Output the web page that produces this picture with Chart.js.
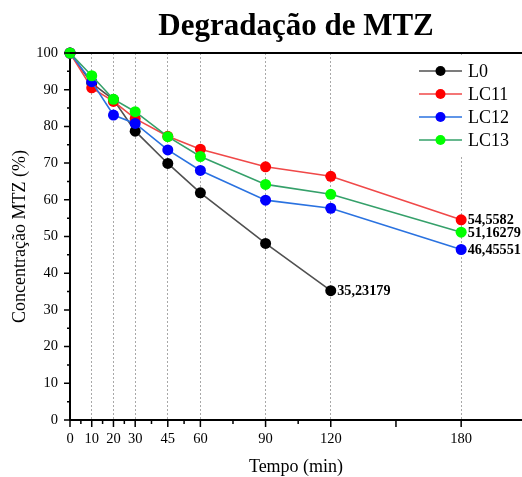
<!DOCTYPE html>
<html>
<head>
<meta charset="utf-8">
<script src="https://cdn.jsdelivr.net/npm/chart.js@4"></script>
<style>
html, body { margin: 0; padding: 0; background: #fff; overflow: hidden; }
canvas { display: block; }
</style>
</head>
<body>
<canvas id="grafico" width="522" height="477"></canvas>
<script>
const tempos = [0, 10, 20, 30, 45, 60, 90, 120, 180];

const serieL0 = [100, 91.8, 87.3, 78.7, 69.9, 61.9, 48.1, 35.23179];
const serieLC11 = [100, 90.5, 86.8, 82.1, 77.3, 73.8, 69.0, 66.4, 54.5582];
const serieLC12 = [100, 92.2, 83.1, 80.8, 73.6, 68.0, 59.9, 57.7, 46.45551];
const serieLC13 = [100, 93.8, 87.4, 84.0, 77.2, 71.8, 64.2, 61.5, 51.16279];

const nomes = ['L0', 'LC11', 'LC12', 'LC13'];
const coresLinha = ['#505050', '#f04848', '#2a72e0', '#35a06a'];
const coresPonto = ['#000000', '#ff0000', '#0000ff', '#00ff00'];

// marcas do eixo x (com e sem rótulo)
const ticksX = [0, 5, 10, 15, 20, 25, 30, 37.5, 45, 52.5, 60, 75, 90, 105, 120, 150, 180];
const rotulosX = [0, 10, 20, 30, 45, 60, 90, 120, 180];

const fonte = "'Liberation Serif', 'Times New Roman', serif";
const canvas = document.getElementById('grafico');

const pontos = (valores) => valores.map((v, i) => ({ x: tempos[i], y: v }));
const series = [serieL0, serieLC11, serieLC12, serieLC13];

const datasets = series.map((valores, i) => ({
    label: nomes[i],
    data: pontos(valores),
    borderColor: coresLinha[i],
    backgroundColor: coresPonto[i],
    pointBackgroundColor: coresPonto[i],
    pointBorderColor: coresPonto[i],
    pointRadius: 5.5,
    pointBorderWidth: 0,
    borderWidth: 1.6,
    tension: 0,
    clip: false,
    order: 4 - i
}));

// tracinhos dos eixos, borda de cima e título
const extras = {
    id: 'extras',
    afterDraw(chart) {
        const { ctx, chartArea, scales } = chart;
        const x = scales.x, y = scales.y;
        ctx.save();
        ctx.strokeStyle = '#000';
        ctx.lineWidth = 1.5;
        ctx.beginPath();
        ticksX.forEach(v => {
            const px = x.getPixelForValue(v);
            const len = (rotulosX.includes(v) || v === 150) ? 7 : 4;
            ctx.moveTo(px, chartArea.bottom);
            ctx.lineTo(px, chartArea.bottom + len);
        });
        for (let v = 0; v <= 100; v += 5) {
            const py = y.getPixelForValue(v);
            const len = v % 10 === 0 ? 6 : 3;
            ctx.moveTo(chartArea.left - len, py);
            ctx.lineTo(chartArea.left, py);
        }
        ctx.stroke();

        ctx.lineWidth = 2;
        ctx.beginPath();
        ctx.moveTo(chartArea.left, chartArea.top);
        ctx.lineTo(chartArea.right, chartArea.top);
        ctx.stroke();

        ctx.fillStyle = '#000';
        ctx.font = 'bold 31px ' + fonte;
        ctx.textAlign = 'center';
        ctx.textBaseline = 'alphabetic';
        ctx.fillText('Degradação de MTZ', (chartArea.left + chartArea.right) / 2, 35);
        ctx.restore();
    }
};

// valor do último ponto de cada série
const valores = {
    id: 'valores',
    afterDatasetsDraw(chart) {
        const { ctx } = chart;
        ctx.save();
        ctx.fillStyle = '#000';
        ctx.font = 'bold 14.2px ' + fonte;
        ctx.textAlign = 'left';
        ctx.textBaseline = 'middle';
        chart.data.datasets.forEach((ds, i) => {
            const meta = chart.getDatasetMeta(i);
            const ultimo = meta.data[meta.data.length - 1];
            const v = ds.data[ds.data.length - 1].y;
            ctx.fillText(String(v).replace('.', ','), ultimo.x + 6.5, ultimo.y + 1);
        });
        ctx.restore();
    }
};

// legenda com linha + marcador
const legenda = {
    id: 'legenda',
    afterDraw(chart) {
        const { ctx, chartArea } = chart;
        ctx.save();
        ctx.fillStyle = '#fff';
        ctx.fillRect(chartArea.right - 109, chartArea.top + 4, 109, 98);
        chart.data.datasets.forEach((ds, i) => {
            const yy = chartArea.top + 18 + i * 23;
            const x0 = chartArea.right - 103;
            ctx.strokeStyle = ds.borderColor;
            ctx.lineWidth = 1.6;
            ctx.beginPath();
            ctx.moveTo(x0, yy);
            ctx.lineTo(x0 + 43, yy);
            ctx.stroke();
            ctx.fillStyle = ds.pointBackgroundColor;
            ctx.beginPath();
            ctx.arc(x0 + 21.5, yy, 5, 0, Math.PI * 2);
            ctx.fill();
            ctx.fillStyle = '#000';
            ctx.font = '18px ' + fonte;
            ctx.textAlign = 'left';
            ctx.textBaseline = 'middle';
            ctx.fillText(ds.label, x0 + 49, yy + 1);
        });
        ctx.restore();
    }
};

const config = {
    type: 'line',
    data: { datasets },
    options: {
        responsive: false,
        animation: false,
        devicePixelRatio: 1,
        layout: { autoPadding: false, padding: { top: 53, left: 0, right: 0, bottom: 0 } },
        plugins: {
            legend: { display: false },
            tooltip: { enabled: false }
        },
        scales: {
            x: {
                type: 'linear',
                min: 0,
                max: 208,
                afterBuildTicks: (scale) => {
                    scale.ticks = ticksX.map(v => ({ value: v }));
                },
                afterFit: (scale) => {
                    scale.height = 57;
                    scale.paddingLeft = 0;
                    scale.paddingRight = 0;
                },
                ticks: {
                    autoSkip: false,
                    maxRotation: 0,
                    padding: 10,
                    color: '#000',
                    font: { family: fonte, size: 14.5 },
                    callback: (v) => rotulosX.includes(v) ? String(v) : ''
                },
                grid: {
                    drawTicks: false,
                    lineWidth: 1,
                    color: (c) => (c.tick && rotulosX.includes(c.tick.value) && c.tick.value !== 0) ? '#a8a8a8' : 'rgba(0,0,0,0)'
                },
                // dash vale para as linhas de grade verticais
                border: { display: true, color: '#000', width: 2, dash: [2, 2] },
                title: {
                    display: true,
                    text: 'Tempo (min)',
                    color: '#000',
                    font: { family: fonte, size: 18, lineHeight: 1 },
                    padding: { top: 0, bottom: 1 }
                }
            },
            y: {
                min: 0,
                max: 100,
                afterFit: (scale) => {
                    scale.width = 70;
                    scale.paddingTop = 0;
                    scale.paddingBottom = 0;
                },
                ticks: {
                    stepSize: 5,
                    padding: 12,
                    color: '#000',
                    font: { family: fonte, size: 14.5 },
                    callback: (v) => v % 10 === 0 ? String(v) : ''
                },
                grid: { display: false, drawTicks: false },
                border: { display: true, color: '#000', width: 2 },
                title: {
                    display: true,
                    text: 'Concentração MTZ (%)',
                    color: '#000',
                    font: { family: fonte, size: 18, lineHeight: 1 },
                    padding: { top: 11, bottom: 0 }
                }
            }
        }
    },
    plugins: [extras, valores, legenda]
};

const myChart = new Chart(canvas, config);
</script>
</body>
</html>
